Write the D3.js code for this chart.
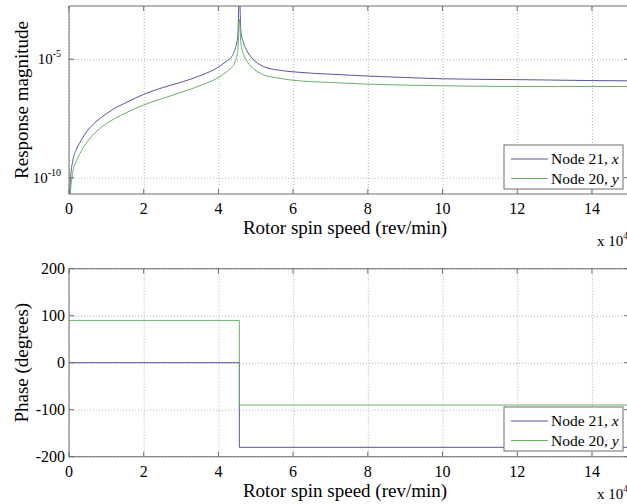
<!DOCTYPE html>
<html>
<head>
<meta charset="utf-8">
<script src="https://cdn.jsdelivr.net/npm/d3@7"></script>
<style>
body { margin: 0; background: #fff; }
svg { display: block; font-family: "Liberation Serif", "Times New Roman", serif; }
.grid line { stroke: #b0b0b0; stroke-dasharray: 1,2; }
.grid path { display: none; }
.frame { fill: none; stroke: #6e6e6e; stroke-width: 1; }
.tick-mark { stroke: #6e6e6e; }
.line { fill: none; stroke-width: 1; }
.node21 { stroke: #55559c; }
.node20 { stroke: #6aae6a; }
</style>
</head>
<body>
<div id="chart"></div>
<script>
// rotor speed, x 10^4 rev/min
var speed = [0.01, 0.03, 0.05, 0.1, 0.2, 0.3, 0.5, 0.75, 1.0, 1.25, 1.5, 2.0, 2.5, 3.0, 3.5, 4.0, 4.2, 4.35, 4.45, 4.52, 4.56, 4.6, 4.67, 4.75, 4.9, 5.2, 5.6, 6.0, 7, 8, 9, 10, 12, 14, 15];
// response magnitude, node 21 x
var magNode21 = [6.3e-12, 5.0e-11, 1.4e-10, 5.0e-10, 1.6e-9, 3.2e-9, 1.0e-8, 2.5e-8, 5.0e-8, 8.9e-8, 1.41e-7, 3.3e-7, 6.3e-7, 1.07e-6, 2.0e-6, 4.7e-6, 7.9e-6, 1.26e-5, 2.8e-5, 1.0e-4, 1.0e-2, 1.6e-4, 5.0e-5, 2.5e-5, 1.12e-5, 5.0e-6, 3.5e-6, 2.95e-6, 2.35e-6, 1.95e-6, 1.7e-6, 1.5e-6, 1.38e-6, 1.26e-6, 1.23e-6];
// response magnitude, node 20 y
var magNode20 = [2.0e-12, 1.6e-11, 4.0e-11, 1.6e-10, 5.2e-10, 1.1e-9, 3.5e-9, 9.5e-9, 1.9e-8, 3.3e-8, 5.2e-8, 1.17e-7, 2.2e-7, 4.0e-7, 7.6e-7, 1.7e-6, 2.8e-6, 4.5e-6, 7.9e-6, 2.5e-5, 5.0e-4, 5.0e-5, 1.6e-5, 8.9e-6, 4.5e-6, 2.25e-6, 1.6e-6, 1.3e-6, 1.05e-6, 8.9e-7, 8.1e-7, 7.6e-7, 7.1e-7, 7.1e-7, 7.1e-7];

// phase, degrees (step at the critical speed)
var phaseSpeed = [0, 4.56, 15];
var phaseNode21 = [0, -180, -180];
var phaseNode20 = [90, -90, -90];

var xTicks = [0, 2, 4, 6, 8, 10, 12, 14];
var magTicks = [1e-10, 1e-5];
var phaseTicks = [-200, -100, 0, 100, 200];
var legendLabels = [["Node 21, ", "x"], ["Node 20, ", "y"]];

var W = 627, H = 504;
var svg = d3.select("#chart").append("svg").attr("width", W).attr("height", H);

var left = 69, right = 629.3;
var x = d3.scaleLinear().domain([0, 15]).range([left, right]);

function drawFrame(g, y, top, bottom, yTickVals, yLabelFn, yLabel, legendTop, multY) {
	var clipId = "clip" + Math.round(top);
	svg.append("clipPath").attr("id", clipId)
		.append("rect").attr("x", left).attr("y", top).attr("width", right - left).attr("height", bottom - top);

	// gridlines
	g.append("g").attr("class", "grid")
		.attr("transform", "translate(0," + bottom + ")")
		.call(d3.axisBottom(x).tickValues(xTicks).tickSize(-(bottom - top)).tickFormat(""));
	g.append("g").attr("class", "grid")
		.attr("transform", "translate(" + left + ",0)")
		.call(d3.axisLeft(y).tickValues(yTickVals).tickSize(-(right - left)).tickFormat(""));

	// curves go here, under the frame and legend
	var curves = g.append("g").attr("clip-path", "url(#" + clipId + ")");

	// inward ticks on all four sides
	xTicks.forEach(function(v) {
		g.append("line").attr("class", "tick-mark").attr("x1", x(v)).attr("x2", x(v)).attr("y1", bottom).attr("y2", bottom - 5);
		g.append("line").attr("class", "tick-mark").attr("x1", x(v)).attr("x2", x(v)).attr("y1", top).attr("y2", top + 5);
		g.append("text").attr("x", x(v)).attr("y", bottom + 20).attr("text-anchor", "middle")
			.attr("font-size", 16).text(v);
	});
	yTickVals.forEach(function(v) {
		g.append("line").attr("class", "tick-mark").attr("x1", left).attr("x2", left + 5).attr("y1", y(v)).attr("y2", y(v));
		g.append("line").attr("class", "tick-mark").attr("x1", right).attr("x2", right - 5).attr("y1", y(v)).attr("y2", y(v));
		yLabelFn(g, v);
	});

	g.append("rect").attr("class", "frame").attr("x", left).attr("y", top).attr("width", right - left).attr("height", bottom - top);

	g.append("text").attr("x", 345).attr("y", bottom + 40).attr("text-anchor", "middle")
		.attr("font-size", 19).text("Rotor spin speed (rev/min)");
	var mult = g.append("text").attr("x", 597).attr("y", multY).attr("font-size", 15);
	mult.append("tspan").text("x 10");
	mult.append("tspan").attr("dy", -7).attr("font-size", 10).text("4");

	g.append("text").attr("transform", "translate(28," + ((top + bottom) / 2) + ") rotate(-90)")
		.attr("text-anchor", "middle").attr("font-size", 19).text(yLabel);

	// legend
	var lg = g.append("g").attr("transform", "translate(504," + legendTop + ")");
	lg.append("rect").attr("width", 119).attr("height", 44).attr("fill", "#fff").attr("stroke", "#6e6e6e");
	["node21", "node20"].forEach(function(c, i) {
		var ly = 14 + i * 19.5;
		lg.append("line").attr("class", "line " + c).attr("x1", 7).attr("x2", 44).attr("y1", ly).attr("y2", ly);
		var t = lg.append("text").attr("x", 47).attr("y", ly + 5).attr("font-size", 15.5);
		t.append("tspan").text(legendLabels[i][0]);
		t.append("tspan").attr("font-style", "italic").text(legendLabels[i][1]);
	});

	return curves;
}

// ---- magnitude plot ----
var yMag = d3.scaleLog().domain([Math.pow(10, -10.69), Math.pow(10, -2.75)]).range([194, 6]);
var g1 = svg.append("g");
var curves1 = drawFrame(g1, yMag, 6, 194, magTicks, function(g, v) {
	var t = g.append("text").attr("x", 61).attr("y", yMag(v) + 5).attr("text-anchor", "end").attr("font-size", 15);
	t.append("tspan").text("10");
	t.append("tspan").attr("dy", -7).attr("font-size", 10).text(v === 1e-5 ? "-5" : "-10");
}, "Response magnitude", 145, 246);

var magLine = function(vals) {
	return d3.line().x(function(d, i) { return x(speed[i]); }).y(function(d) { return yMag(d); }).curve(d3.curveMonotoneX)(vals);
};
curves1.append("path").attr("class", "line node21").attr("d", magLine(magNode21));
curves1.append("path").attr("class", "line node20").attr("d", magLine(magNode20));

// ---- phase plot ----
var yPh = d3.scaleLinear().domain([-200, 200]).range([456.7, 268.7]);
var g2 = svg.append("g");
var curves2 = drawFrame(g2, yPh, 268.7, 456.7, phaseTicks, function(g, v) {
	g.append("text").attr("x", 65).attr("y", yPh(v) + 5).attr("text-anchor", "end").attr("font-size", 16).text(v);
}, "Phase (degrees)", 407, 499);

var phLine = function(vals) {
	return d3.line().x(function(d, i) { return x(phaseSpeed[i]); }).y(function(d) { return yPh(d); }).curve(d3.curveStepAfter)(vals);
};
curves2.append("path").attr("class", "line node21").attr("d", phLine(phaseNode21));
curves2.append("path").attr("class", "line node20").attr("d", phLine(phaseNode20));
</script>
</body>
</html>
